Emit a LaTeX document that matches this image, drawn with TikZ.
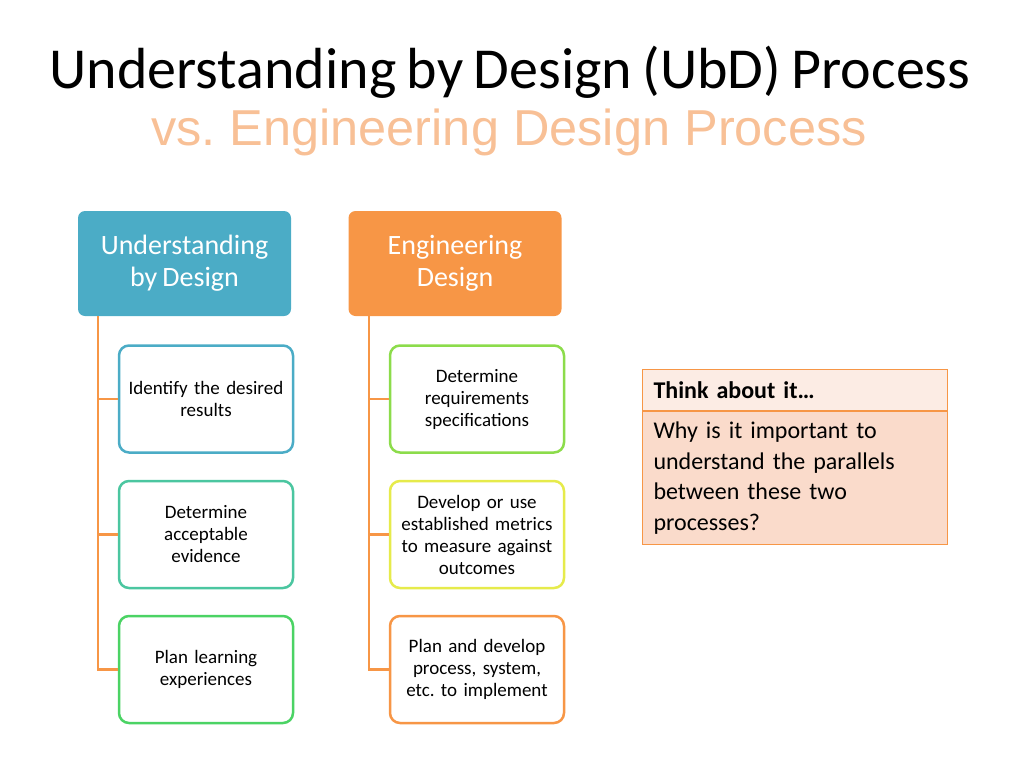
\documentclass[tikz,border=0pt]{standalone}
\usepackage{fontspec}
\setmainfont{Carlito}[WordSpace=0.8]
\newfontfamily\arialfont{Liberation Sans}
\usetikzlibrary{positioning}
\frenchspacing
\newcommand{\HDW}{213}
\newcommand{\HDH}{105}
\newcommand{\ITW}{174}
\newcommand{\ITH}{107}
\definecolor{ubdteal}{RGB}{75,172,198}
\definecolor{engorange}{RGB}{247,150,70}
\definecolor{subtorange}{RGB}{248,192,150}
\definecolor{stepa}{RGB}{75,172,198}
\definecolor{stepb}{RGB}{75,198,160}
\definecolor{stepc}{RGB}{75,211,100}
\definecolor{stepd}{RGB}{140,220,75}
\definecolor{stepe}{RGB}{230,235,75}
\definecolor{stepf}{RGB}{247,150,70}
\definecolor{thinkhd}{RGB}{252,236,228}
\definecolor{thinkbd}{RGB}{250,219,203}

\begin{document}
\begin{tikzpicture}[
    x=1pt, y=-1pt,
    hdr/.style={rounded corners=7pt, minimum width=\HDW pt, minimum height=\HDH pt,
      inner sep=0pt, text=white, align=center, font=\fontsize{28}{32}\selectfont},
    item/.style={draw, fill=white, line width=2.5pt, rounded corners=10pt,
      minimum width=\ITW pt, minimum height=\ITH pt, inner sep=0pt,
      text width=166pt, align=center, font=\fontsize{19}{22}\selectfont},
    conn/.style={draw=engorange, line width=2.7pt},
    tbox/.style={draw=engorange, line width=1pt, minimum width=305pt, inner xsep=11pt,
      inner ysep=0pt, anchor=north west, text width=283pt, align=left},
  ]
  \useasboundingbox (0,0) rectangle (1024,768);

  %% title
  \node[anchor=base, font=\fontsize{58}{72}\selectfont] (title) at (510,88)
    {Understanding by Design (UbD) Process};
  \node[anchor=base, text=subtorange, font=\arialfont\fontsize{50.5}{58}\selectfont] (subtitle) at (509,145)
    {vs. Engineering Design Process};

  %% the two processes
  \node[hdr, fill=ubdteal] (ubd) at (184.5,263.5) {Understanding\\by Design};
  \node[hdr, fill=engorange] (eng) at (455,263.5) {Engineering\\Design};

  \node[item, draw=stepa] (u1) at (206,399)   {Identify the desired\\results};
  \node[item, draw=stepb] (u2) at (206,534.5) {Determine\\acceptable\\evidence};
  \node[item, draw=stepc] (u3) at (206,669.5) {Plan learning\\experiences};

  \node[item, draw=stepd] (e1) at (477,399)   {Determine\\requirements\\specifications};
  \node[item, draw=stepe] (e2) at (477,534.5) {Develop or use\\established metrics\\to measure against\\outcomes};
  \node[item, draw=stepf] (e3) at (477,669.5) {Plan and develop\\process, system,\\etc. to implement};

  %% connectors: trunk under each header, one branch per step
  \coordinate (uroot) at ([xshift=-86.5pt]ubd.south);
  \coordinate (eroot) at ([xshift=-86pt]eng.south);
  \foreach \c in {u1,u2,u3} { \draw[conn] (uroot) |- (\c.west); }
  \foreach \c in {e1,e2,e3} { \draw[conn] (eroot) |- (\c.west); }

  %% think about it
  \node[tbox, fill=thinkhd, minimum height=41pt, font=\bfseries\fontsize{24}{30}\selectfont]
    (think) at (642,369) {Think about it…};
  \node[tbox, fill=thinkbd, minimum height=133pt, font=\fontsize{24}{30.5}\selectfont,
    below=0pt of think.south west, anchor=north west] (thinkbody)
    {Why is it important to\\understand the parallels\\between these two\\processes?};
\end{tikzpicture}
\end{document}
